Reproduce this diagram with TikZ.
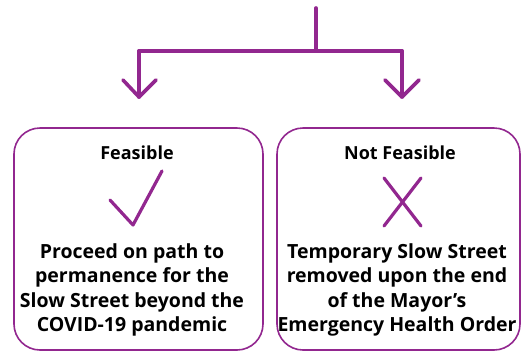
\documentclass[tikz,border=0pt]{standalone}
\usepackage{fontspec}
\usetikzlibrary{calc}
\setmainfont{Open Sans}
\definecolor{vio}{HTML}{92278F}
\begin{document}
\begin{tikzpicture}[x=1pt,y=-1pt,
  conn/.style={draw=vio,line width=3.6pt,line cap=round,line join=round},
  boxst/.style={draw=vio,line width=1.6pt,rounded corners=26pt},
  head/.style={font=\fontsize{18}{20}\selectfont\bfseries,anchor=center},
  body/.style={font=\fontsize{19.5}{24.4}\selectfont\bfseries,align=center,anchor=north,inner sep=0pt}]
\useasboundingbox (0,0) rectangle (527,354);
% connector
\coordinate (top) at (316,8);
\coordinate (mid) at (316,51);
\coordinate (lc) at (139,51);
\coordinate (rc) at (402,51);
\coordinate (la) at (139,97);
\coordinate (ra) at (402,97);
\draw[conn] (top) -- (mid);
\draw[conn] (lc) -- (rc);
\draw[conn] (lc) -- (la);
\draw[conn] (rc) -- (ra);
\draw[conn] ($(la)+(-16,-17)$) -- (la) -- ($(la)+(17,-17)$);
\draw[conn] ($(ra)+(-17,-17)$) -- (ra) -- ($(ra)+(17,-17)$);
% boxes
\draw[boxst] (14,128) rectangle (263,350);
\draw[boxst] (277,128) rectangle (520,350);
\node[head] (fh) at (137,153) {Feasible};
\node[head] (nh) at (400,153) {Not Feasible};
\draw[conn,line width=3.2pt] (110,200) -- (133,225) -- (162,171);
\draw[conn,line width=3.2pt] (384,178) -- (421,226);
\draw[conn,line width=3.2pt] (421,178) -- (384,226);
\node[body] (fb) at (132,243.5) {Proceed on path to\\permanence for the\\Slow Street beyond the\\COVID-19 pandemic};
\node[body] (nb) at (397,243.5) {Temporary Slow Street\\removed upon the end\\of the Mayor’s\\Emergency Health Order};
\end{tikzpicture}
\end{document}
